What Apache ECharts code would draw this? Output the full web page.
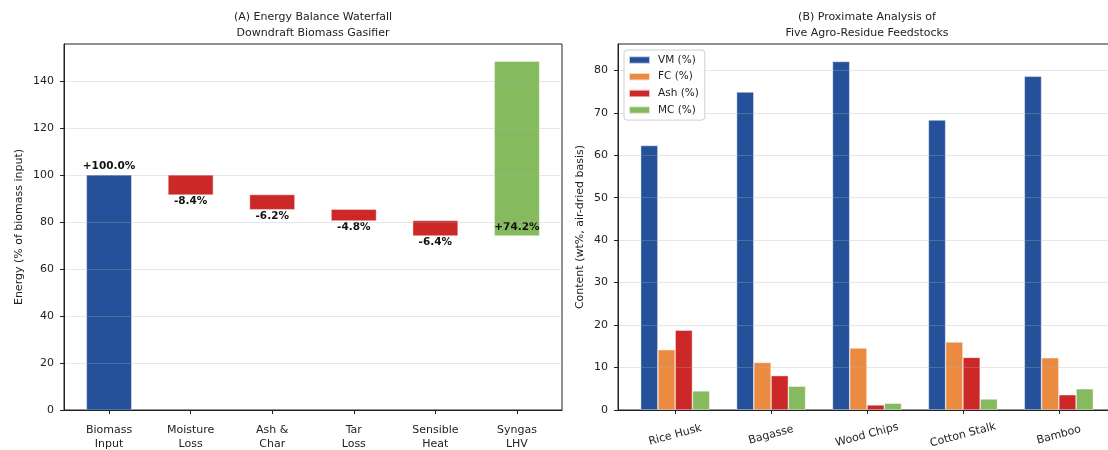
<!DOCTYPE html>
<html>
<head>
<meta charset="utf-8">
<script src="https://cdn.jsdelivr.net/npm/echarts@6/dist/echarts.min.js"></script>
<style>
  html, body { margin: 0; padding: 0; background: #ffffff; }
  #chart { width: 1108px; height: 450px; }
</style>
</head>
<body>
<div id="chart"></div>
<script>
// Panel A: energy balance steps (% of biomass input)
const stepNames = ['Biomass\nInput', 'Moisture\nLoss', 'Ash &\nChar', 'Tar\nLoss', 'Sensible\nHeat', 'Syngas\nLHV'];
const stepValues = [100.0, -8.4, -6.2, -4.8, -6.4, 74.2];
const energyTicks = [0, 20, 40, 60, 80, 100, 120, 140];

// Panel B: proximate analysis (wt%, air-dried basis)
const feedstocks = ['Rice Husk', 'Bagasse', 'Wood Chips', 'Cotton Stalk', 'Bamboo'];
const vmValues = [62.3, 74.9, 82.1, 68.3, 78.6];
const fcValues = [14.2, 11.2, 14.6, 16.0, 12.3];
const ashValues = [18.8, 8.1, 1.2, 12.4, 3.6];
const mcValues = [4.5, 5.6, 1.6, 2.6, 5.0];
const contentTicks = [0, 10, 20, 30, 40, 50, 60, 70, 80];

const BLUE = '#25519a', ORANGE = '#eb8a41', RED = '#cc2828', GREEN = '#85ba5f';
const FONT = 'DejaVu Sans';
const INK = '#222222';
const GRIDLINE = 'rgba(176,176,176,0.3)';
const EDGE = 'rgba(255,255,255,0.7)';
const STEP_WIDTH = 0.55;   // waterfall bar width, in category units

// Waterfall: floating bars [index, bottom, top, step] built from a running total
let running = 0;
const waterfall = [];
stepValues.forEach((v, i) => {
  const bottom = v >= 0 ? running : running + v;
  waterfall.push([i, bottom, bottom + Math.abs(v), v]);
  running += v;
});
const energyMax = Math.max(...waterfall.map(d => d[2])) * 1.05;
const contentMax = Math.max(...vmValues, ...fcValues, ...ashValues, ...mcValues) * 1.05;

// Bar-axis padding: half a bar group on each side plus 5% margins
const padA = STEP_WIDTH / 2 + (stepNames.length - 1 + STEP_WIDTH) * 0.05;
const padB = 0.36 + (feedstocks.length - 1 + 0.72) * 0.05;

const baseIndex = stepNames.map((_, i) => i);
const feedIndex = feedstocks.map((_, i) => i);

function renderStep(params, api) {
  const i = api.value(0), lo = api.value(1), hi = api.value(2), v = api.value(3);
  const last = params.dataIndex === waterfall.length - 1;
  const color = params.dataIndex === 0 ? BLUE : (v < 0 ? RED : GREEN);
  const top = api.coord([i, hi]);
  const bot = api.coord([i, lo]);
  const w = api.size([STEP_WIDTH, 0])[0];
  let ty, va;
  if (v < 0) { ty = bot[1] + 1; va = 'top'; }
  else if (last) { ty = bot[1] - 3; va = 'bottom'; }
  else { ty = top[1] - 3; va = 'bottom'; }
  return {
    type: 'group',
    children: [
      {
        type: 'rect',
        shape: { x: top[0] - w / 2, y: top[1], width: w, height: bot[1] - top[1] },
        style: { fill: color, stroke: EDGE, lineWidth: 0.6 }
      },
      {
        type: 'text',
        z2: 10,
        style: {
          x: top[0], y: ty,
          text: (v >= 0 ? '+' : '') + v.toFixed(1) + '%',
          align: 'center', verticalAlign: va,
          fontFamily: FONT, fontSize: 10.5, fontWeight: 'bold', fill: '#111111'
        }
      }
    ]
  };
}

function yAxisCommon(ticks, max, name, gap, gridIndex) {
  return {
    type: 'value', gridIndex: gridIndex, min: 0, max: max, z: 3,
    name: name, nameLocation: 'middle', nameGap: gap,
    nameTextStyle: { fontFamily: FONT, fontSize: 11, color: INK },
    axisLine: { show: true, onZero: false, lineStyle: { color: INK, width: 1 } },
    axisTick: { show: true, length: 4, customValues: ticks, lineStyle: { color: INK } },
    axisLabel: { customValues: ticks, margin: 10, fontFamily: FONT, fontSize: 11, color: INK },
    splitLine: { show: true, lineStyle: { color: GRIDLINE, width: 1 } }
  };
}

function groupedBar(name, values, color) {
  return {
    name: name, type: 'bar', xAxisIndex: 1, yAxisIndex: 1, barWidth: '18%', barGap: '0%',
    itemStyle: { color: color, borderColor: EDGE, borderWidth: 0.6 },
    data: values.map((v, i) => [i, v])
  };
}

const chart = echarts.init(document.getElementById('chart'), null, { renderer: 'canvas' });
chart.setOption({
  animation: false,
  backgroundColor: '#ffffff',
  title: [
    {
      text: '(A) Energy Balance Waterfall\nDowndraft Biomass Gasifier',
      left: 313, top: 8.5, padding: 0, textAlign: 'center',
      textStyle: { fontFamily: FONT, fontSize: 11, fontWeight: 'normal', color: INK, lineHeight: 16.5 }
    },
    {
      text: '(B) Proximate Analysis of\nFive Agro-Residue Feedstocks',
      left: 867, top: 8.5, padding: 0, textAlign: 'center',
      textStyle: { fontFamily: FONT, fontSize: 11, fontWeight: 'normal', color: INK, lineHeight: 16.5 }
    }
  ],
  legend: {
    orient: 'vertical', left: 624, top: 50,
    icon: 'rect', itemWidth: 21, itemHeight: 7.5, itemGap: 4.7,
    padding: [4, 6, 4, 4],
    backgroundColor: 'rgba(255,255,255,0.8)',
    borderColor: '#cfcfcf', borderWidth: 1, borderRadius: 3,
    textStyle: { fontFamily: FONT, fontSize: 10.5, color: INK, lineHeight: 12, padding: [0, 0, 0, 3] },
    data: ['VM (%)', 'FC (%)', 'Ash (%)', 'MC (%)']
  },
  grid: [
    {
      left: 64, top: 44, width: 498, height: 366, containLabel: false, outerBoundsMode: 'none',
      show: true, borderColor: INK, borderWidth: 1, backgroundColor: 'transparent'
    },
    {
      left: 618, top: 44, width: 498, height: 366, containLabel: false, outerBoundsMode: 'none',
      show: true, borderColor: INK, borderWidth: 1, backgroundColor: 'transparent'
    }
  ],
  xAxis: [
    {
      type: 'value', gridIndex: 0, min: -padA, max: stepNames.length - 1 + padA, z: 3,
      axisLine: { show: true, onZero: false, lineStyle: { color: INK, width: 1 } },
      axisTick: { show: true, length: 4, customValues: baseIndex, lineStyle: { color: INK } },
      axisLabel: {
        customValues: baseIndex, margin: 13, fontFamily: FONT, fontSize: 11, color: INK, lineHeight: 14,
        formatter: v => stepNames[Math.round(v)]
      },
      splitLine: { show: false }
    },
    {
      type: 'value', gridIndex: 1, min: -padB, max: feedstocks.length - 1 + padB, z: 3,
      axisLine: { show: true, onZero: false, lineStyle: { color: INK, width: 1 } },
      axisTick: { show: true, length: 4, customValues: feedIndex, lineStyle: { color: INK } },
      axisLabel: {
        customValues: feedIndex, margin: 25, rotate: 15, align: 'center', verticalAlign: 'middle',
        fontFamily: FONT, fontSize: 11, color: INK,
        formatter: v => feedstocks[Math.round(v)]
      },
      splitLine: { show: false }
    }
  ],
  yAxis: [
    yAxisCommon(energyTicks, energyMax, 'Energy (% of biomass input)', 39, 0),
    yAxisCommon(contentTicks, contentMax, 'Content (wt%, air-dried basis)', 32, 1)
  ],
  series: [
    {
      name: 'Energy balance', type: 'custom', xAxisIndex: 0, yAxisIndex: 0,
      renderItem: renderStep,
      encode: { x: 0, y: [1, 2] },
      data: waterfall
    },
    groupedBar('VM (%)', vmValues, BLUE),
    groupedBar('FC (%)', fcValues, ORANGE),
    groupedBar('Ash (%)', ashValues, RED),
    groupedBar('MC (%)', mcValues, GREEN)
  ]
});
</script>
</body>
</html>
